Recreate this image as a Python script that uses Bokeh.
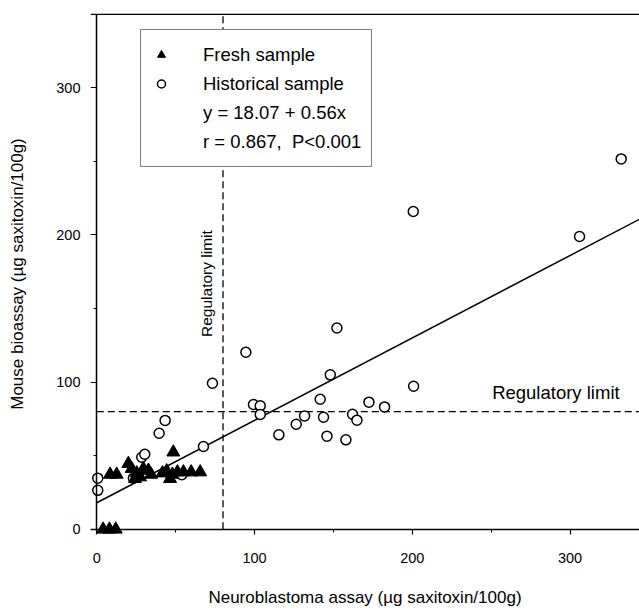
from bokeh.plotting import figure
from bokeh.models import (Range1d, Span, Label, Legend, LegendItem, SingleIntervalTicker,
                          LinearAxis, CustomJSTickFormatter)
from bokeh.embed import file_html
from bokeh.resources import INLINE
import math

# ---- data ----
fresh_x = [4, 8, 12, 8.4, 12.6, 20, 22.1, 25.3, 27.4, 24.2, 29.5, 32.7, 34.4,
           48.5, 41.6, 44.3, 46.4, 47.9, 51.1, 54.9, 59.8, 65.5]
fresh_y = [0, 0, 0, 37.3, 37.3, 44.6, 41.2, 38.2, 35.5, 34.4, 41.2, 40, 37.3,
           52.4, 38.2, 39.6, 34.4, 37.3, 38.9, 38.9, 38.9, 38.9]

hist_x = [0.6, 0.6, 23.2, 28.5, 30.4, 39.5, 43.3, 53.9, 67.6, 73.3,
          94.5, 99.3, 103.6, 103.6, 115.4, 126.4, 131.7, 141.6, 143.7, 145.9,
          148, 152.2, 157.9, 162.1, 164.9, 172.5, 182.4, 200.8, 200.6, 306, 332.4]
hist_y = [34.8, 26.5, 34.8, 49, 51, 65.3, 74, 37.1, 56.3, 99.3,
          120.3, 84.8, 83.9, 78, 64.2, 71.4, 77.1, 88.4, 76.2, 63.3,
          105, 136.8, 60.8, 78.2, 74.2, 86.4, 83.2, 97.2, 216, 199, 251.7]

fit_intercept = 18.07
fit_slope = 0.56
reg_limit = 80

x_ticks_interval = 100
y_ticks_interval = 100
X_START, X_END = -4, 344
Y_START, Y_END = -3.5, 350.5
Y_TOP = 350

legend_labels = ["Fresh sample", "Historical sample", "y = 18.07 + 0.56x", "r = 0.867,  P<0.001"]
x_title = "Neuroblastoma assay (\u00b5g saxitoxin/100g)"
y_title = "Mouse bioassay (\u00b5g saxitoxin/100g)"
reg_text = "Regulatory limit"

FONT = "Liberation Sans"

p = figure(width=639, height=610, output_backend="svg", toolbar_location=None,
           x_range=Range1d(X_START, X_END), y_range=Range1d(Y_START, Y_END),
           min_border_left=90, min_border_right=0, min_border_top=13, min_border_bottom=76)
p.outline_line_color = None
p.xgrid.visible = False
p.ygrid.visible = False
p.background_fill_color = "white"

# primary axes: lines + ticks at data zero (no labels)
blank = CustomJSTickFormatter(code="return ''")
xa = p.xaxis[0]
ya = p.yaxis[0]
xa.fixed_location = 0
ya.fixed_location = 0
xa.bounds = (X_START, X_END)
ya.bounds = (0, Y_TOP)
for ax, iv in ((xa, x_ticks_interval), (ya, y_ticks_interval)):
    ax.ticker = SingleIntervalTicker(interval=iv, num_minor_ticks=2)
    ax.formatter = blank
    ax.axis_line_color = "black"
    ax.axis_line_width = 1.5
    ax.major_tick_line_color = "black"
    ax.major_tick_line_width = 1.2
    ax.minor_tick_line_color = "black"
    ax.major_tick_in = 0
    ax.major_tick_out = 6
    ax.minor_tick_in = 0
    ax.minor_tick_out = 3
    ax.major_label_standoff = 0

# secondary axes at frame edges: labels only
xl = LinearAxis(ticker=SingleIntervalTicker(interval=x_ticks_interval))
yl = LinearAxis(ticker=SingleIntervalTicker(interval=y_ticks_interval))
for ax in (xl, yl):
    ax.axis_line_color = None
    ax.major_tick_line_color = None
    ax.minor_tick_line_color = None
    ax.major_tick_in = 0
    ax.major_tick_out = 0
    ax.minor_tick_in = 0
    ax.minor_tick_out = 0
    ax.major_label_text_font = FONT
    ax.major_label_text_font_size = "14.5px"
    ax.major_label_text_color = "black"
    ax.axis_label_text_font = FONT
    ax.axis_label_text_font_size = "17px"
    ax.axis_label_text_font_style = "normal"
    ax.axis_label_text_color = "black"
xl.axis_label = x_title
yl.axis_label = y_title
xl.major_label_standoff = 18
xl.axis_label_standoff = 22
yl.major_label_standoff = 10
yl.axis_label_standoff = 26
p.add_layout(xl, "below")
p.add_layout(yl, "left")

# top border line
p.add_layout(Span(location=Y_TOP, dimension="width", line_color="black", line_width=1.5))

# regulatory limits
p.line(x=[0, X_END], y=[reg_limit, reg_limit], line_color="black", line_width=1.3, line_dash="7 4")
p.line(x=[reg_limit, reg_limit], y=[0, Y_TOP], line_color="black", line_width=1.3, line_dash="7 4")

# regression line
fx = [0, X_END]
fy = [fit_intercept + fit_slope * v for v in fx]
p.line(x=fx, y=fy, line_color="black", line_width=1.5)

# points
r_hist = p.scatter(x=hist_x, y=hist_y, marker="circle", size=10, fill_color="white",
                   line_color="black", line_width=1.5)
r_fresh = p.scatter(x=fresh_x, y=fresh_y, marker="triangle", size=13, fill_color="black",
                    line_color="black", line_width=1)
r_dummy = p.scatter(x=[], y=[], marker="circle", size=1, fill_alpha=0, line_alpha=0)

# regulatory labels
p.add_layout(Label(x=reg_limit, y=167, text=reg_text, angle=math.pi / 2,
                   x_offset=-8, text_align="center", text_baseline="bottom",
                   text_font=FONT, text_font_size="15.5px", text_color="black"))
p.add_layout(Label(x=291, y=reg_limit, text=reg_text,
                   y_offset=9, text_align="center", text_baseline="bottom",
                   text_font=FONT, text_font_size="18.5px", text_color="black"))

legend = Legend(items=[
    LegendItem(label=legend_labels[0], renderers=[r_fresh]),
    LegendItem(label=legend_labels[1], renderers=[r_hist]),
    LegendItem(label=legend_labels[2], renderers=[r_dummy]),
    LegendItem(label=legend_labels[3], renderers=[r_dummy]),
], location=(50, 367))
legend.margin = 0
legend.padding = 10
legend.spacing = 0
legend.glyph_width = 20
legend.glyph_height = 29
legend.label_height = 29
legend.label_standoff = 32
legend.label_text_font = FONT
legend.label_text_font_size = "18.5px"
legend.label_text_color = "black"
legend.border_line_color = "black"
legend.border_line_width = 1.5
legend.background_fill_alpha = 1
p.add_layout(legend)

open("out.html", "w").write(file_html(p, INLINE))
